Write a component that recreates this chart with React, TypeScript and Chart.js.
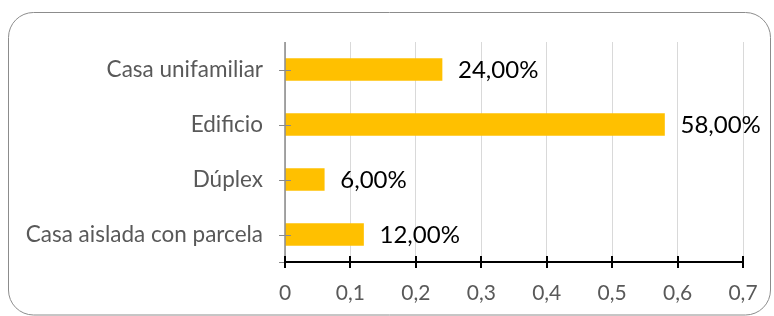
import React, { useEffect, useRef } from "react";
import { Chart, registerables } from "chart.js";

Chart.register(...registerables);

const categories = ["Casa unifamiliar", "Edificio", "Dúplex", "Casa aislada con parcela"];
const shares = [0.24, 0.58, 0.06, 0.12];
const xTickLabels = ["0", "0,1", "0,2", "0,3", "0,4", "0,5", "0,6", "0,7"];

const FONT = "Lato";

const decorPlugin = {
  id: "decor",
  afterDatasetsDraw(chart: any) {
    const { ctx, chartArea, scales } = chart;
    const xs = scales.x;
    const ys = scales.y;
    ctx.save();
    ctx.strokeStyle = "#8a8a8a";
    ctx.lineWidth = 1.5;
    ctx.beginPath();
    ctx.moveTo(chartArea.left, chartArea.top);
    ctx.lineTo(chartArea.left, chartArea.bottom + 6);
    ctx.stroke();
    ctx.lineWidth = 1;
    const tys = categories.map((_, i) => ys.getPixelForValue(i));
    tys.push(chartArea.bottom);
    tys.forEach((y: number) => {
      ctx.beginPath();
      ctx.moveTo(chartArea.left - 6, Math.round(y) + 0.5);
      ctx.lineTo(chartArea.left + 6, Math.round(y) + 0.5);
      ctx.stroke();
    });
    ctx.strokeStyle = "#000";
    ctx.lineWidth = 2;
    ctx.beginPath();
    ctx.moveTo(chartArea.left, chartArea.bottom);
    ctx.lineTo(chartArea.right, chartArea.bottom);
    ctx.stroke();
    xs.ticks.forEach((t: any) => {
      const x = Math.round(xs.getPixelForValue(t.value));
      ctx.beginPath();
      ctx.moveTo(x, chartArea.bottom - 6);
      ctx.lineTo(x, chartArea.bottom + 6);
      ctx.stroke();
    });
    ctx.fillStyle = "#000";
    ctx.font = `24px ${FONT}`;
    ctx.textAlign = "left";
    ctx.textBaseline = "middle";
    const meta = chart.getDatasetMeta(0);
    meta.data.forEach((bar: any, i: number) => {
      const txt = (shares[i] * 100).toFixed(2).replace(".", ",") + "%";
      ctx.fillText(txt, bar.x + 16, bar.y + 1);
    });
    ctx.restore();
  },
  afterDraw(chart: any) {
    const { ctx } = chart;
    ctx.save();
    ctx.strokeStyle = "#8c8c8c";
    ctx.lineWidth = 1;
    ctx.beginPath();
    ctx.roundRect(8.5, 12.5, 762, 302.5, 25);
    ctx.stroke();
    ctx.restore();
  },
};

export default function App() {
  const ref = useRef<HTMLCanvasElement>(null);
  useEffect(() => {
    document.body.style.margin = "0";
    const chart = new Chart(ref.current!, {
      type: "bar",
      data: {
        labels: categories,
        datasets: [
          {
            data: shares,
            backgroundColor: "#FFC000",
            barThickness: 22,
          },
        ],
      },
      plugins: [decorPlugin],
      options: {
        indexAxis: "y",
        animation: false,
        responsive: false,
        maintainAspectRatio: false,
        layout: { padding: { top: 42, right: 31, left: 0, bottom: 0 } },
        plugins: { legend: { display: false }, tooltip: { enabled: false } },
        scales: {
          x: {
            min: 0,
            max: 0.7,
            ticks: {
              stepSize: 0.1,
              color: "#595959",
              font: { family: FONT, size: 21 },
              padding: 19,
              maxRotation: 0,
              callback: (_v: any, i: number) => xTickLabels[i],
            },
            grid: { color: "#d9d9d9", lineWidth: 1, drawTicks: false },
            border: { display: false },
            afterFit: (s: any) => {
              s.height = 54;
              s.paddingLeft = 0;
              s.paddingRight = 0;
            },
          },
          y: {
            ticks: {
              color: "#595959",
              font: { family: FONT, size: 22.5 },
              padding: 14,
            },
            grid: { display: false },
            border: { display: false },
            afterFit: (s: any) => {
              s.width = 285;
            },
          },
        },
      },
    });
    return () => chart.destroy();
  }, []);
  return <canvas ref={ref} width={774} height={316} style={{ display: "block" }} />;
}
